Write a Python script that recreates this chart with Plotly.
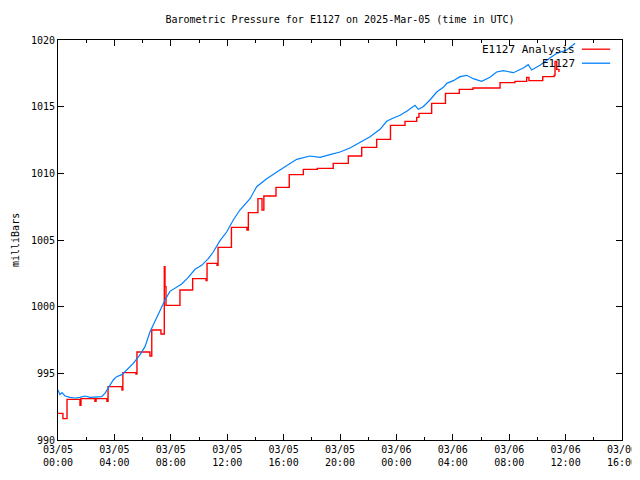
import plotly.graph_objects as go
import pandas as pd

# ---------------- data ----------------
BASE = pd.Timestamp("2025-03-05 00:00")

# E1127 Analysis (hours after 03/05 00:00 UTC, millibars) - stepped
analysis_hours = [0.0, 0.35, 0.64, 1.56, 1.63, 2.62, 2.70, 3.47, 3.55, 4.54, 4.60,
                  5.53, 5.60, 6.52, 6.65, 7.30, 7.54, 7.59, 7.66, 8.65, 9.55,
                  10.50, 10.57, 11.28, 11.35, 12.30, 13.40, 13.50, 14.18, 14.47, 14.60,
                  15.46, 16.40, 17.40, 18.39, 19.52, 20.59, 21.54, 22.60, 23.58,
                  24.61, 25.44, 25.60, 26.50, 27.48, 28.46, 29.43, 31.35, 32.41,
                  33.24, 33.40, 34.38, 35.18, 35.25, 35.37, 35.53]
analysis_mb = [992.0, 991.6, 993.05, 992.6, 993.1, 992.9, 993.1, 992.9, 994.0, 993.75, 995.05,
               994.95, 996.6, 996.3, 998.25, 997.95, 1003.0, 1001.5, 1000.1, 1001.25, 1002.1,
               1001.95, 1003.25, 1003.1, 1004.45, 1005.95, 1005.75, 1007.05, 1008.1, 1007.25, 1008.3,
               1008.95, 1009.9, 1010.3, 1010.37, 1010.75, 1011.3, 1011.95, 1012.55, 1013.6,
               1013.9, 1014.2, 1014.5, 1015.25, 1016.0, 1016.3, 1016.4, 1016.8, 1016.9,
               1017.2, 1016.95, 1017.25, 1017.35, 1018.4, 1017.8, 1017.6]

# E1127 observations
obs_hours = [0.0, 0.14, 0.28, 0.5, 0.85, 1.2, 1.56, 1.91, 2.27, 2.62, 3.1, 3.33, 3.57,
             3.92, 4.16, 4.52, 4.87, 5.34, 5.82, 6.17, 6.52, 6.88, 7.23, 7.59, 7.94,
             8.3, 8.77, 9.24, 9.72, 10.19, 10.66, 11.01, 11.49, 11.96, 12.43, 12.9,
             13.62, 14.09, 14.8, 15.74, 16.45, 16.93, 17.87, 18.58, 19.29, 20.0,
             20.71, 21.42, 22.13, 22.84, 23.31, 23.78, 24.26, 24.73, 25.32, 25.55,
             25.9, 26.38, 26.86, 27.33, 27.57, 28.04, 28.51, 28.99, 29.45, 30.04,
             30.64, 31.11, 31.58, 32.29, 33.0, 33.35, 33.59, 34.18, 34.54, 34.89,
             35.37, 36.08, 36.67]
obs_mb = [993.75, 993.4, 993.55, 993.3, 993.2, 993.15, 993.2, 993.3, 993.2, 993.2, 993.25,
          993.5, 993.95, 994.5, 994.75, 994.9, 995.25, 995.75, 996.4, 997.0, 998.1, 998.9,
          999.75, 1000.5, 1001.15, 1001.4, 1001.7, 1002.2, 1002.8, 1003.1, 1003.6, 1004.1,
          1004.95, 1005.6, 1006.5, 1007.25, 1008.1, 1009.0, 1009.6, 1010.25, 1010.75,
          1011.05, 1011.3, 1011.2, 1011.4, 1011.6, 1011.9, 1012.3, 1012.75, 1013.3,
          1013.9, 1014.15, 1014.35, 1014.65, 1015.1, 1014.8, 1015.0, 1015.5, 1016.1,
          1016.45, 1016.75, 1016.95, 1017.25, 1017.35, 1017.1, 1016.9, 1017.2, 1017.6,
          1017.7, 1017.55, 1017.9, 1018.15, 1017.75, 1018.1, 1018.4, 1018.65, 1019.0,
          1019.25, 1019.75]

tick_hours = [0, 4, 8, 12, 16, 20, 24, 28, 32, 36, 40]
tick_labels = ["03/05<br>00:00", "03/05<br>04:00", "03/05<br>08:00", "03/05<br>12:00",
               "03/05<br>16:00", "03/05<br>20:00", "03/06<br>00:00", "03/06<br>04:00",
               "03/06<br>08:00", "03/06<br>12:00", "03/06<br>16:00"]
y_ticks = [990, 995, 1000, 1005, 1010, 1015, 1020]

series_names = ["E1127 Analysis", "E1127"]
series_colors = ["#ff0000", "#0080ff"]


def to_time(hours):
    return [BASE + pd.Timedelta(hours=h) for h in hours]


FONT = "DejaVu Sans Mono"
OFF = 8  # page body margin offset
W, H = 632, 464

fig = go.Figure()
fig.add_trace(go.Scatter(x=to_time(analysis_hours), y=analysis_mb, mode="lines",
                         line=dict(color=series_colors[0], width=1.4, shape="hv"),
                         name=series_names[0], showlegend=False))
fig.add_trace(go.Scatter(x=to_time(obs_hours), y=obs_mb, mode="lines",
                         line=dict(color=series_colors[1], width=1.2),
                         name=series_names[1], showlegend=False))

# gnuplot-style legend: text then sample line, top right
for i, (nm, col) in enumerate(zip(series_names, series_colors)):
    yy = 0.977 - i * 0.035
    fig.add_annotation(xref="paper", yref="paper", x=0.920, y=yy, text=nm,
                       showarrow=False, xanchor="right", yanchor="middle",
                       font=dict(family=FONT, size=11, color="black"))
    fig.add_shape(type="line", xref="paper", yref="paper", x0=0.929, x1=0.979,
                  y0=yy, y1=yy, line=dict(color=col, width=1.3))

# y-axis label
fig.add_annotation(xref="paper", yref="paper", x=(15 - 58) / 564, y=0.5, text="milliBars",
                   textangle=-90, showarrow=False, xanchor="center", yanchor="middle",
                   font=dict(family=FONT, size=10, color="black"))

fig.update_layout(
    width=W, height=H,
    margin=dict(l=58 - OFF, r=W - (622 - OFF), t=40 - OFF, b=H - (440 - OFF), autoexpand=False),
    paper_bgcolor="white", plot_bgcolor="white",
    font=dict(family=FONT, size=10, color="black"),
    title=dict(text="Barometric Pressure for E1127 on 2025-Mar-05 (time in UTC)",
               x=(340 - OFF) / W, xanchor="center", y=1 - (19 - OFF) / H, yanchor="middle",
               yref="container", font=dict(family=FONT, size=10)),
)
fig.update_xaxes(
    range=[BASE, BASE + pd.Timedelta(hours=40)],
    tickmode="array", tickvals=to_time(tick_hours), ticktext=tick_labels,
    ticks="inside", ticklen=6, tickcolor="black", tickwidth=1,
    showline=True, linecolor="black", linewidth=1, mirror="ticks",
    showgrid=False, zeroline=False, automargin=False, ticklabeloverflow="allow",
    minor=dict(ticks="inside", ticklen=3, tickcolor="black",
               tick0=BASE, dtick=2 * 3600 * 1000, showgrid=False),
    tickfont=dict(family=FONT, size=10),
)
fig.update_yaxes(
    range=[990, 1020], tickmode="array", tickvals=y_ticks,
    ticktext=[str(v) for v in y_ticks],
    ticks="inside", ticklen=6, tickcolor="black", tickwidth=1,
    showline=True, linecolor="black", linewidth=1, mirror="ticks",
    showgrid=False, zeroline=False, automargin=False,
    tickfont=dict(family=FONT, size=10),
)

fig.write_html("out.html")
